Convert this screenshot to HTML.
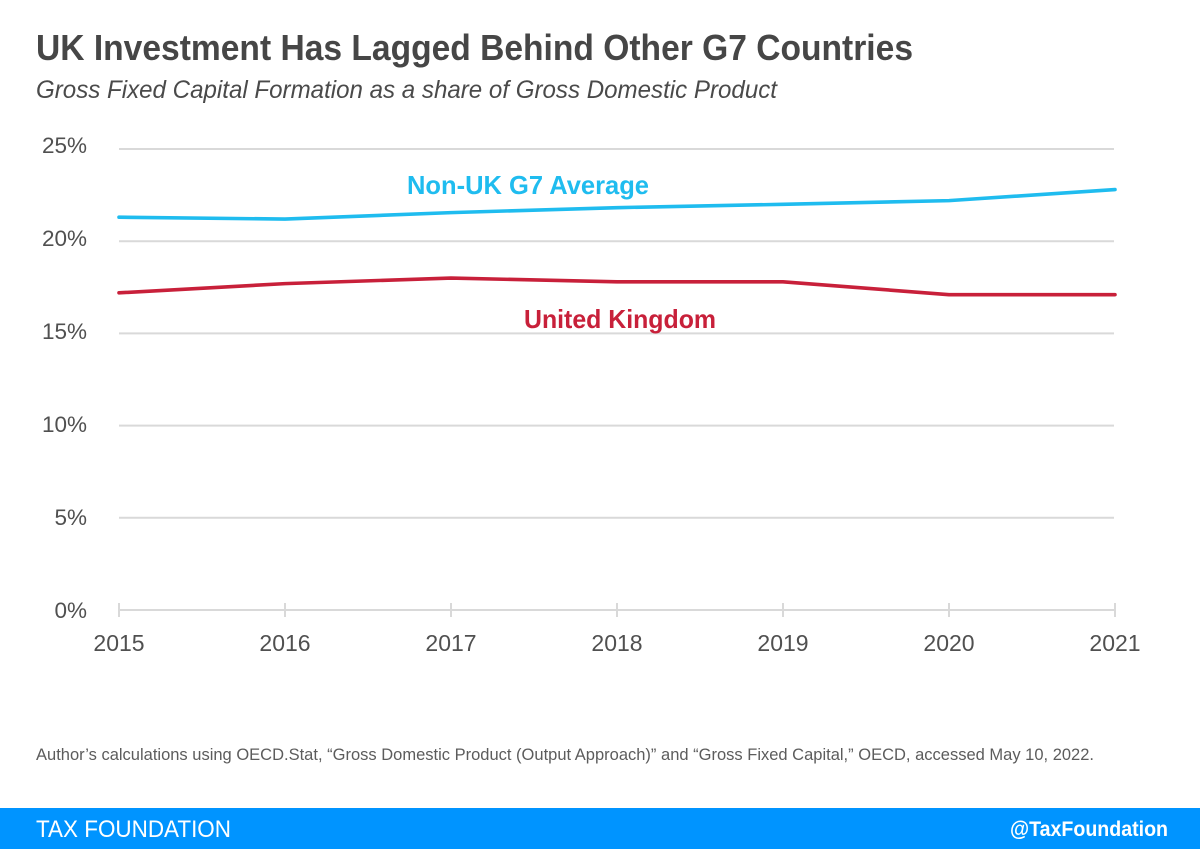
<!DOCTYPE html>
<html lang="en">
<head>
<meta charset="utf-8">
<title>UK Investment Has Lagged Behind Other G7 Countries</title>
<style>
html,body{margin:0;padding:0;background:#fff;width:1200px;height:849px;overflow:hidden}
svg{display:block}
text{font-family:"Liberation Sans",sans-serif}
</style>
</head>
<body>
<svg id="chart" width="1200" height="849" viewBox="0 0 1200 849" xmlns="http://www.w3.org/2000/svg">
  <text x="36" y="60" font-size="36" font-weight="700" fill="#464646" textLength="877" lengthAdjust="spacingAndGlyphs">UK Investment Has Lagged Behind Other G7 Countries</text>
  <text x="36" y="98" font-size="25" font-style="italic" fill="#4a4a4a" textLength="741" lengthAdjust="spacingAndGlyphs">Gross Fixed Capital Formation as a share of Gross Domestic Product</text>
  <g id="grid"></g>
  <g id="yLabels"></g>
  <g id="xAxis"></g>
  <g id="series"></g>
  <text x="407" y="194" font-size="26" font-weight="700" fill="#1fbcef" textLength="242" lengthAdjust="spacingAndGlyphs">Non-UK G7 Average</text>
  <text x="524" y="328" font-size="26" font-weight="700" fill="#c8203a" textLength="192" lengthAdjust="spacingAndGlyphs">United Kingdom</text>
  <text x="36" y="760" font-size="17" fill="#5c5c5c" textLength="1058" lengthAdjust="spacingAndGlyphs">Author’s calculations using OECD.Stat, “Gross Domestic Product (Output Approach)” and “Gross Fixed Capital,” OECD, accessed May 10, 2022.</text>
  <rect x="0" y="808" width="1200" height="41" fill="#0094ff"/>
  <text x="36" y="837" font-size="24" fill="#ffffff" textLength="195" lengthAdjust="spacingAndGlyphs">TAX FOUNDATION</text>
  <text x="1010" y="836" font-size="21" font-weight="700" fill="#ffffff" textLength="158" lengthAdjust="spacingAndGlyphs">@TaxFoundation</text>
</svg>
<script>
const years = ['2015', '2016', '2017', '2018', '2019', '2020', '2021'];
const yTicks = [0, 5, 10, 15, 20, 25];
const g7Average = [21.3, 21.2, 21.55, 21.82, 22.0, 22.2, 22.8];
const unitedKingdom = [17.2, 17.7, 18.0, 17.8, 17.8, 17.1, 17.1];

const NS = 'http://www.w3.org/2000/svg';
function xPos(i) { return 119 + i * (1115 - 119) / (years.length - 1); }
function yPos(v) { return 610 - v * (610 - 149) / 25; }
function yLabelBaseline(v) { return 618 - v * 465 / 25; }
function make(tag, attrs, parent) {
  const el = document.createElementNS(NS, tag);
  for (const k in attrs) el.setAttribute(k, attrs[k]);
  parent.appendChild(el);
  return el;
}
const grid = document.getElementById('grid');
const yLabels = document.getElementById('yLabels');
const xAxis = document.getElementById('xAxis');
const series = document.getElementById('series');

yTicks.forEach(function (t) {
  const line = make('line', { x1: 119, x2: 1114, y1: yPos(t), y2: yPos(t), stroke: '#d9d9d9', 'stroke-width': 2 }, grid);
  
  
  const label = make('text', { x: 87, y: yLabelBaseline(t), 'text-anchor': 'end', 'font-size': 22.5, fill: '#505050' }, yLabels);
  
  
  label.textContent = t + '%';
});

years.forEach(function (year, i) {
  const tick = make('line', { x1: xPos(i), x2: xPos(i), y1: 603, y2: 617, stroke: '#d9d9d9', 'stroke-width': 2 }, xAxis);
  
  
  const label = make('text', { x: xPos(i), y: 651, 'text-anchor': 'middle', 'font-size': 23, fill: '#505050' }, xAxis);
  
  
  label.textContent = year;
});

function pointsFor(values) {
  return values.map(function (v, i) { return xPos(i) + ',' + yPos(v); }).join(' ');
}
const g7Line = make('polyline', { points: pointsFor(g7Average), fill: 'none', stroke: '#1fbcef', 'stroke-width': 3.6, 'stroke-linecap': 'round', 'stroke-linejoin': 'round' }, series);


const ukLine = make('polyline', { points: pointsFor(unitedKingdom), fill: 'none', stroke: '#c8203a', 'stroke-width': 3.6, 'stroke-linecap': 'round', 'stroke-linejoin': 'round' }, series);


</script>
</body>
</html>
